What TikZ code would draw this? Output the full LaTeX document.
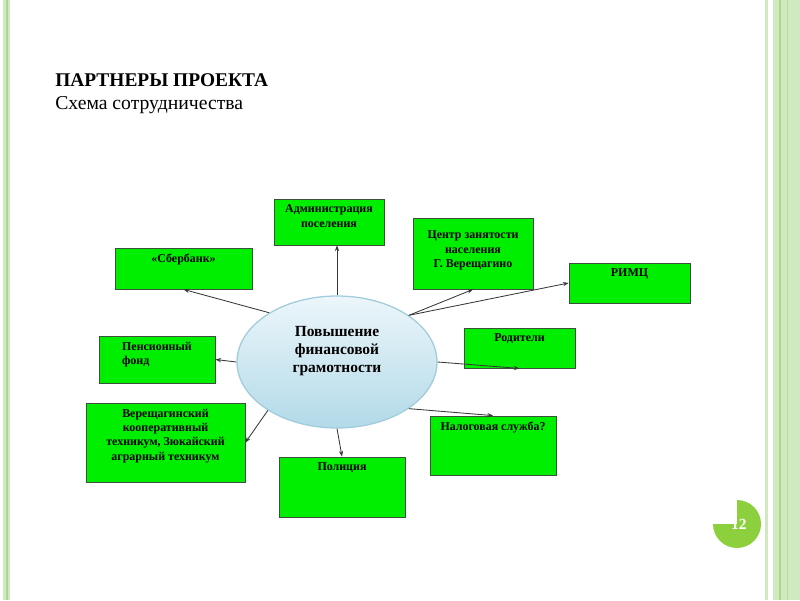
\documentclass[tikz,border=0pt]{standalone}
\usepackage{fontspec}
\setmainfont{Liberation Serif}
\usetikzlibrary{arrows.meta,shapes.geometric}
\definecolor{boxgreen}{RGB}{0,238,0}
\definecolor{boxline}{RGB}{60,80,60}
\definecolor{linkgray}{RGB}{55,55,55}
\definecolor{ellTop}{RGB}{236,246,250}
\definecolor{ellBot}{RGB}{178,218,232}
\definecolor{ellLine}{RGB}{160,204,220}
\definecolor{stripeLight}{RGB}{207,233,193}
\definecolor{stripeDark}{RGB}{170,216,145}
\definecolor{numgreen}{RGB}{140,208,62}

\begin{document}
\begin{tikzpicture}[
  box/.style={draw=boxline,fill=boxgreen,line width=0.6pt,inner sep=0pt},
  txt/.style={font=\fontsize{8.5}{10.2}\selectfont\bfseries,align=center,anchor=north,yshift=-1pt},
  ctr/.style={font=\fontsize{11}{12.6}\selectfont\bfseries,align=center,yshift=0.27cm},
  link/.style={-{Stealth[length=4pt,width=3pt]},draw=linkgray,line width=0.6pt},
  head/.style={anchor=base west,inner sep=0pt,font=\fontsize{14}{16}\selectfont}]

\useasboundingbox (0,0) rectangle (20,15);

% Side stripes.
\fill[stripeLight] (0.075,0) rectangle (0.25,15);
\fill[stripeDark] (0.16,0) rectangle (0.19,15);
\fill[stripeLight] (19.125,0) rectangle (19.2,15);
\fill[stripeLight] (19.325,0) rectangle (20,15);
\fill[stripeDark] (19.475,0) rectangle (19.525,15);
\fill[stripeDark!70!stripeLight] (19.67,0) rectangle (19.7,15);

% Heading.
\node[head,font=\fontsize{13.8}{16}\selectfont\bfseries] (title) at (1.375,12.825) {ПАРТНЕРЫ ПРОЕКТА};
\node[head] (subtitle) at (1.375,12.25) {Схема сотрудничества};

% Centre.
\node[ellipse,draw=ellLine,line width=0.9pt,top color=ellTop,bottom color=ellBot,
  minimum width=5cm,minimum height=3.3cm,inner sep=0pt,
  label={[ctr]center:{Повышение\\финансовой\\грамотности}}] (grow) at (8.425,5.95) {};

% Partners.
\node[box,minimum width=2.75cm,minimum height=1.15cm,
  label={[txt]north:{Администрация\\поселения}}] (admin) at (8.225,9.45) {};
\node[box,minimum width=3.425cm,minimum height=1.025cm,
  label={[txt]north:{«Сбербанк»}}] (sber) at (4.5875,8.2875) {};
\node[box,minimum width=3.0cm,minimum height=1.775cm,
  label={[txt,yshift=-5pt]north:{Центр занятости\\населения\\Г. Верещагино}}] (centre) at (11.825,8.6625) {};
\node[box,minimum width=3.025cm,minimum height=1.0cm,
  label={[txt]north:{РИМЦ}}] (rimc) at (15.7375,7.925) {};
\node[box,minimum width=2.775cm,minimum height=1.0cm,
  label={[txt]north:{Родители}}] (parents) at (12.9875,6.3) {};
\node[box,minimum width=2.9cm,minimum height=1.175cm,
  label={[txt,align=left]north:{Пенсионный\\фонд}}] (pension) at (3.925,6.0125) {};
\node[box,minimum width=3.975cm,minimum height=1.975cm,
  label={[txt]north:{Верещагинский\\кооперативный\\техникум, Зюкайский\\аграрный техникум}}] (vere) at (4.1375,3.9375) {};
\node[box,minimum width=3.15cm,minimum height=1.5cm,
  label={[txt]north:{Полиция}}] (police) at (8.55,2.825) {};
\node[box,minimum width=3.15cm,minimum height=1.475cm,
  label={[txt]north:{Налоговая служба?}}] (tax) at (12.325,3.8625) {};

% Links.
\draw[link] (grow.north) -- (grow.north |- admin.south);
\draw[link] (grow.144) -- (sber.south);
\draw[link] (grow.33) -- (centre.south);
\draw[link] (grow.33) -- (rimc.west);
\draw[link] (grow.east) -- (parents.south);
\draw[link] (grow.west) -- (pension.east);
\draw[link] (grow.215) -- (vere.east);
\draw[link] (grow.south) -- (police.north);
\draw[link] (grow.-33) -- (tax.north);

% Slide number.
\fill[numgreen] (18.425,1.9) -- ++(0,0.6) arc[start angle=90,end angle=-180,radius=0.6] -- cycle;
\node[text=white,font=\fontsize{11}{12}\selectfont\bfseries] (pnum) at (18.47,1.9) {12};
\end{tikzpicture}
\end{document}
